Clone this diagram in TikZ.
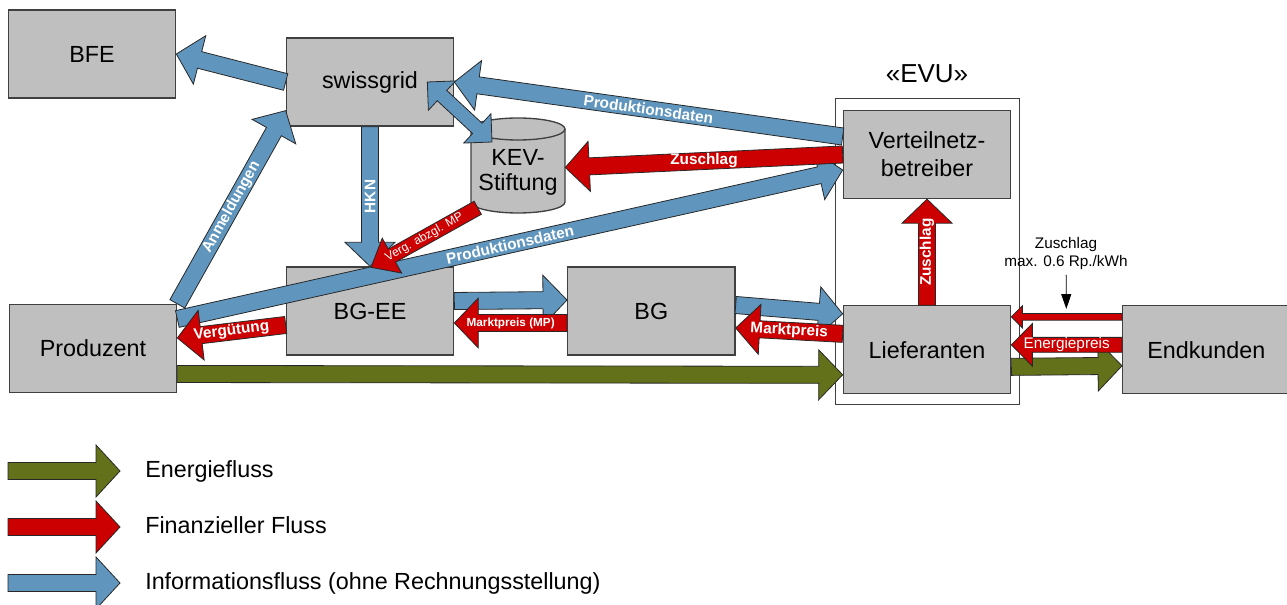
\documentclass[tikz,border=0pt]{standalone}
\usepackage{fontspec}
\setmainfont{Liberation Sans}
\usetikzlibrary{positioning, calc, arrows.meta}

\definecolor{boxgray}{RGB}{191,191,191}
\definecolor{boxline}{RGB}{64,64,64}
\definecolor{arrowline}{RGB}{40,40,40}
\definecolor{infoblue}{RGB}{96,150,190}
\definecolor{moneyred}{RGB}{204,0,0}
\definecolor{energygreen}{RGB}{99,113,26}

\newcommand{\boxfont}{\fontsize{17.5}{21}\selectfont}
\newcommand{\lblfont}{\bfseries\fontsize{11.5}{13}\selectfont}
\newcommand{\notefont}{\fontsize{11.5}{13.5}\selectfont}

\tikzset{
  fashaft/.store in=\fashaft, fahead/.store in=\fahead,
  falen/.store in=\falen, fafill/.store in=\fafill,
  info/.style={fafill=infoblue},
  money/.style={fafill=moneyred},
  energy/.style={fafill=energygreen},
  lbl/.style={text=white, font=\lblfont, inner sep=0pt},
  lblsmall/.style={lbl, font=\bfseries\fontsize{8.8}{10}\selectfont},
  lblthin/.style={lbl, font=\fontsize{9}{10}\selectfont},
  lblreg/.style={lbl, font=\fontsize{11.5}{13}\selectfont}
}

% block arrow: [style]{from}{to}{label}
\newcommand{\fatarrow}[4][]{%
  \begin{scope}[fashaft=6.4pt, fahead=18.75pt, falen=18pt, fafill=infoblue, #1]
    \coordinate (fa a) at (#2);
    \coordinate (fa b) at (#3);
    \coordinate (fa n) at ($(fa b)!\falen!(fa a)$);
    \filldraw[fill=\fafill, draw=arrowline, line width=.6pt]
      ($(fa a)!\fashaft!90:(fa b)$) -- ($(fa n)!\fashaft!-90:(fa a)$)
      -- ($(fa n)!\fahead!-90:(fa a)$) -- (fa b)
      -- ($(fa n)!\fahead!90:(fa a)$) -- ($(fa n)!\fashaft!90:(fa a)$)
      -- ($(fa a)!\fashaft!-90:(fa b)$) -- cycle;
    \path (fa a) -- (fa b) #4;
  \end{scope}}

% block arrow with two heads
\newcommand{\fatdarrow}[3][]{%
  \begin{scope}[fashaft=6.4pt, fahead=18.75pt, falen=18pt, fafill=infoblue, #1]
    \coordinate (fa a) at (#2);
    \coordinate (fa b) at (#3);
    \coordinate (fa na) at ($(fa a)!\falen!(fa b)$);
    \coordinate (fa nb) at ($(fa b)!\falen!(fa a)$);
    \filldraw[fill=\fafill, draw=arrowline, line width=.6pt]
      ($(fa na)!\fashaft!90:(fa b)$) -- ($(fa nb)!\fashaft!-90:(fa a)$)
      -- ($(fa nb)!\fahead!-90:(fa a)$) -- (fa b)
      -- ($(fa nb)!\fahead!90:(fa a)$) -- ($(fa nb)!\fashaft!90:(fa a)$)
      -- ($(fa na)!\fashaft!-90:(fa b)$) -- ($(fa na)!\fahead!-90:(fa b)$)
      -- (fa a) -- ($(fa na)!\fahead!90:(fa b)$) -- cycle;
  \end{scope}}

\begin{document}
\begin{tikzpicture}[x=0.75pt, y=-0.75pt,
  box/.style={draw=boxline, fill=boxgray, line width=1pt, minimum width=125.5pt,
    minimum height=66pt, inner sep=0pt, align=center, font=\boxfont}]
  \useasboundingbox (0,0) rectangle (1287,605);

  % EVU frame
  \node[draw=boxline, line width=.6pt, minimum width=138pt, minimum height=230pt] (evu) at (927,251.5) {};
  \node[anchor=base, font=\fontsize{19.5}{22}\selectfont] (evu label) at (927,83) {«EVU»};

  % boxes
  \node[box] (bfe) at (92,54) {BFE};
  \node[box] (swissgrid) at (370,82) {swissgrid};
  \node[box] (vnb) at (927,154.5) {Verteilnetz-\\betreiber};
  \node[box] (bgee) at (370,311) {BG-EE};
  \node[box, right=84.5pt of bgee] (bg) {BG};
  \node[box] (produzent) at (93,348.5) {Produzent};
  \node[box, below=79.5pt of vnb] (lieferanten) {Lieferanten};
  \node[box, right=83pt of lieferanten] (endkunden) {Endkunden};

  % KEV cylinder
  \filldraw[fill=boxgray, draw=boxline, line width=1pt]
    (471,202) arc[start angle=180, end angle=360, x radius=35.25pt, y radius=8.25pt]
    -- (565,129) arc[start angle=0, end angle=180, x radius=35.25pt, y radius=8.25pt] -- cycle;
  \draw[boxline, line width=1pt] (471,129) arc[start angle=180, end angle=360, x radius=35.25pt, y radius=8.25pt];
  \node[font=\fontsize{17.5}{19}\selectfont, align=center, minimum width=70.5pt,
    minimum height=70.5pt, inner sep=0pt] (kev) at (518,172.5) {KEV-\\Stiftung};

  % information flows
  \fatarrow{swissgrid.west}{bfe.east}{}
  \fatarrow{produzent.north east}{$(swissgrid.south west)+(0,-16)$}{node[pos=.5, sloped, lbl] {Anmeldungen}}
  \fatarrow{swissgrid.south}{bgee.north}{node[pos=.5, rotate=90, lbl] {HKN}}
  \fatdarrow[fashaft=5.25pt, fahead=15pt, falen=15pt]{$(swissgrid.east)+(-27,0)$}{$(kev.center)+(-26,-30.5)$}
  \fatarrow{$(vnb.west)+(0,-18)$}{swissgrid.east}{node[pos=.5, sloped, lbl] {Produktionsdaten}}
  \fatarrow{$(produzent.east)+(0,-29.5)$}{$(vnb.west)+(0,15.5)$}{node[pos=.5, sloped, lbl] {Produktionsdaten}}

  % financial flows
  \fatarrow[money]{vnb.west}{$(kev.east)+(0,-5)$}{node[pos=.5, lbl] {Zuschlag}}
  \fatarrow[money, fashaft=5.6pt, fahead=15pt]{$(kev.south west)+(7,-12)$}{$(bgee.north)+(1,1)$}{node[pos=.5, sloped, lblthin] {Verg. abzgl. MP}}
  \fatarrow[money]{$(bgee.west)+(0,14)$}{$(produzent.east)+(0,-10.5)$}{node[pos=.5, sloped, lbl] {Vergütung}}

  \fatarrow{$(bgee.east)+(0,-10)$}{$(bg.west)+(0,-11)$}{}
  \fatarrow[money]{$(bg.west)+(0,12)$}{$(bgee.east)+(0,12)$}{node[midway, lblsmall] {Marktpreis (MP)}}
  \fatarrow{$(bg.east)+(0,-6)$}{$(lieferanten.west)+(0,-36)$}{}
  \fatarrow[money]{$(lieferanten.west)+(0,-16)$}{$(bg.east)+(0,17)$}{node[pos=.5, sloped, lbl] {Marktpreis}}

  % energy flow
  \fatarrow[energy]{$(produzent.east)+(0,25.5)$}{$(lieferanten.west)+(0,25)$}{}

  \fatarrow[money]{lieferanten.north}{vnb.south}{node[pos=.5, rotate=90, lbl] {Zuschlag}}

  \fatarrow[energy]{$(lieferanten.east)+(0,17)$}{$(endkunden.west)+(0,16)$}{}
  \fatarrow[money, fashaft=2.5pt, fahead=8.25pt, falen=8.25pt]{$(endkunden.west)+(0,-33)$}{$(lieferanten.east)+(0,-33)$}{}
  \fatarrow[money, fashaft=5.6pt, fahead=16pt, falen=15.75pt]{$(endkunden.west)+(0,-5)$}{$(lieferanten.east)+(0,-5)$}{node[pos=.5, lblreg] {Energiepreis}}

  % surcharge note
  \node[font=\notefont, align=center] (note) at (1066,254) {Zuschlag\\max. 0.6 Rp./kWh};
  \coordinate (note tip) at ($(lieferanten.east)+(55,-41)$);
  \draw[-{Triangle[length=11pt, width=7.5pt]}, line width=.6pt] (note) -- (note tip);

  % legend
  \foreach \ly/\lc/\lt [count=\i] in {471/energygreen/Energiefluss, 527/moneyred/Finanzieller Fluss, 583/infoblue/Informationsfluss (ohne Rechnungsstellung)} {
    \coordinate (key\i) at (8,\ly);
    \fatarrow[fafill=\lc, fahead=19.5pt]{key\i}{$(key\i)+(112,0)$}{}
    \node[anchor=base west, font=\boxfont, inner sep=0pt] (key\i text) at (145,\ly+6.5) {\lt};
  }
\end{tikzpicture}
\end{document}
